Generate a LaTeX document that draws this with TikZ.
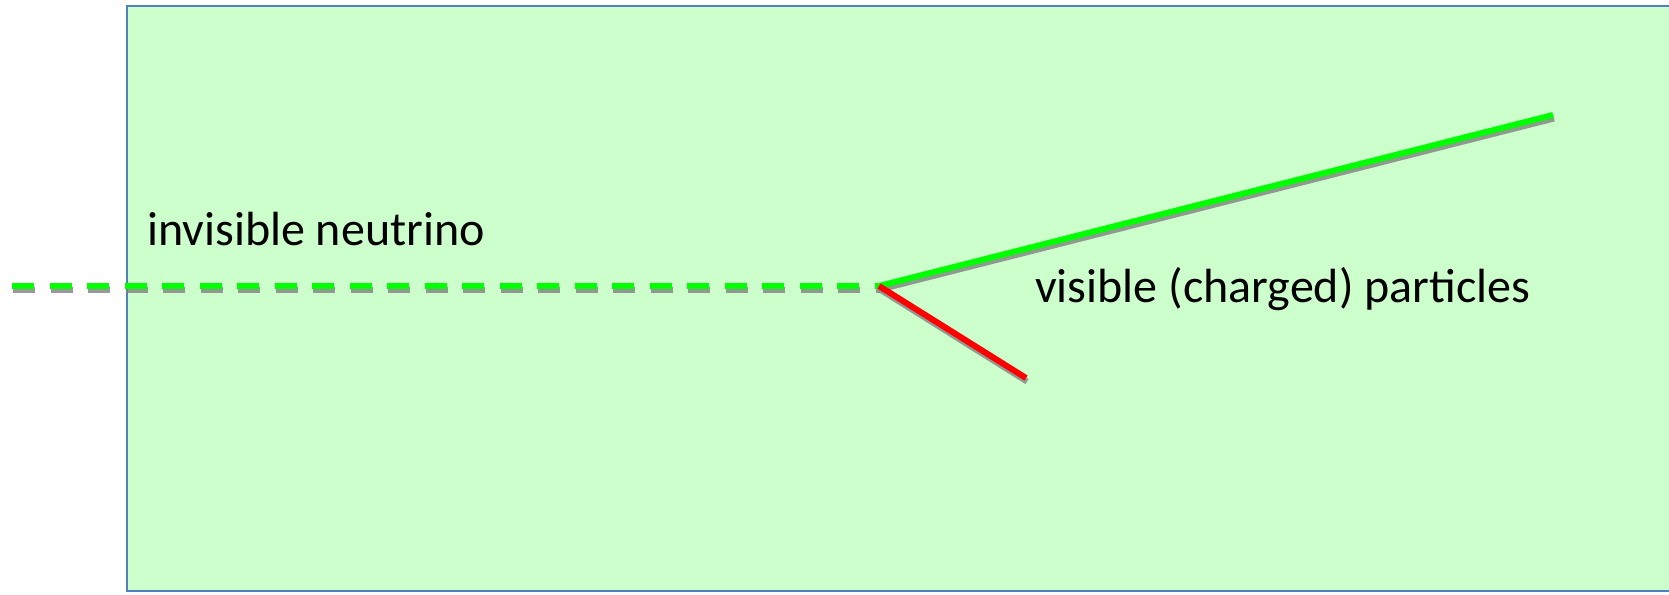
\documentclass[tikz,border=0pt]{standalone}
\usepackage{fontspec}
\setmainfont{Carlito}
\definecolor{panelfill}{HTML}{CCFFCC}
\definecolor{panelline}{HTML}{4F81BD}
\definecolor{trackgreen}{HTML}{00FF00}
\definecolor{trackred}{HTML}{FF0000}
\definecolor{shadowgrey}{HTML}{808080}
\tikzset{
  panel/.style={draw=panelline, line width=2.6pt, fill=panelfill},
  track/.style={line width=6pt},
  trackshadow/.style={line width=6pt, draw=shadowgrey, opacity=0.8,
    transform canvas={xshift=1pt, yshift=-3.5pt}},
  neutrino/.style={dash pattern=on 22pt off 15.5pt},
  label/.style={font=\fontsize{48}{56}\selectfont, text=black, inner sep=0pt, anchor=base west}
}
\begin{document}
\begin{tikzpicture}[x=1pt, y=-1pt]
\useasboundingbox (0,0) rectangle (1669,594);
% detector volume, running past the right edge
\path[panel] (127,6) rectangle (1690,591);
\clip (0,0) rectangle (1669,594);
% track end points
\coordinate (src) at (12,286);
\coordinate (vtx) at (879,286);
\coordinate (hi) at (1553,115);
\coordinate (lo) at (1026,378);
% shadows under the tracks
\draw[trackshadow, neutrino] (src) -- (vtx);
\draw[trackshadow] (vtx) -- (hi);
\draw[trackshadow] (vtx) -- (lo);
% tracks
\draw[track, neutrino, trackgreen] (src) -- (vtx);
\draw[track, trackgreen] (vtx) -- (hi);
\draw[track, trackred] (vtx) -- (lo);
% labels
\node[label] (nu) at (147,245) {invisible neutrino};
\node[label] (vis) at (1035,302) {visible (charged) particles};
\end{tikzpicture}
\end{document}
